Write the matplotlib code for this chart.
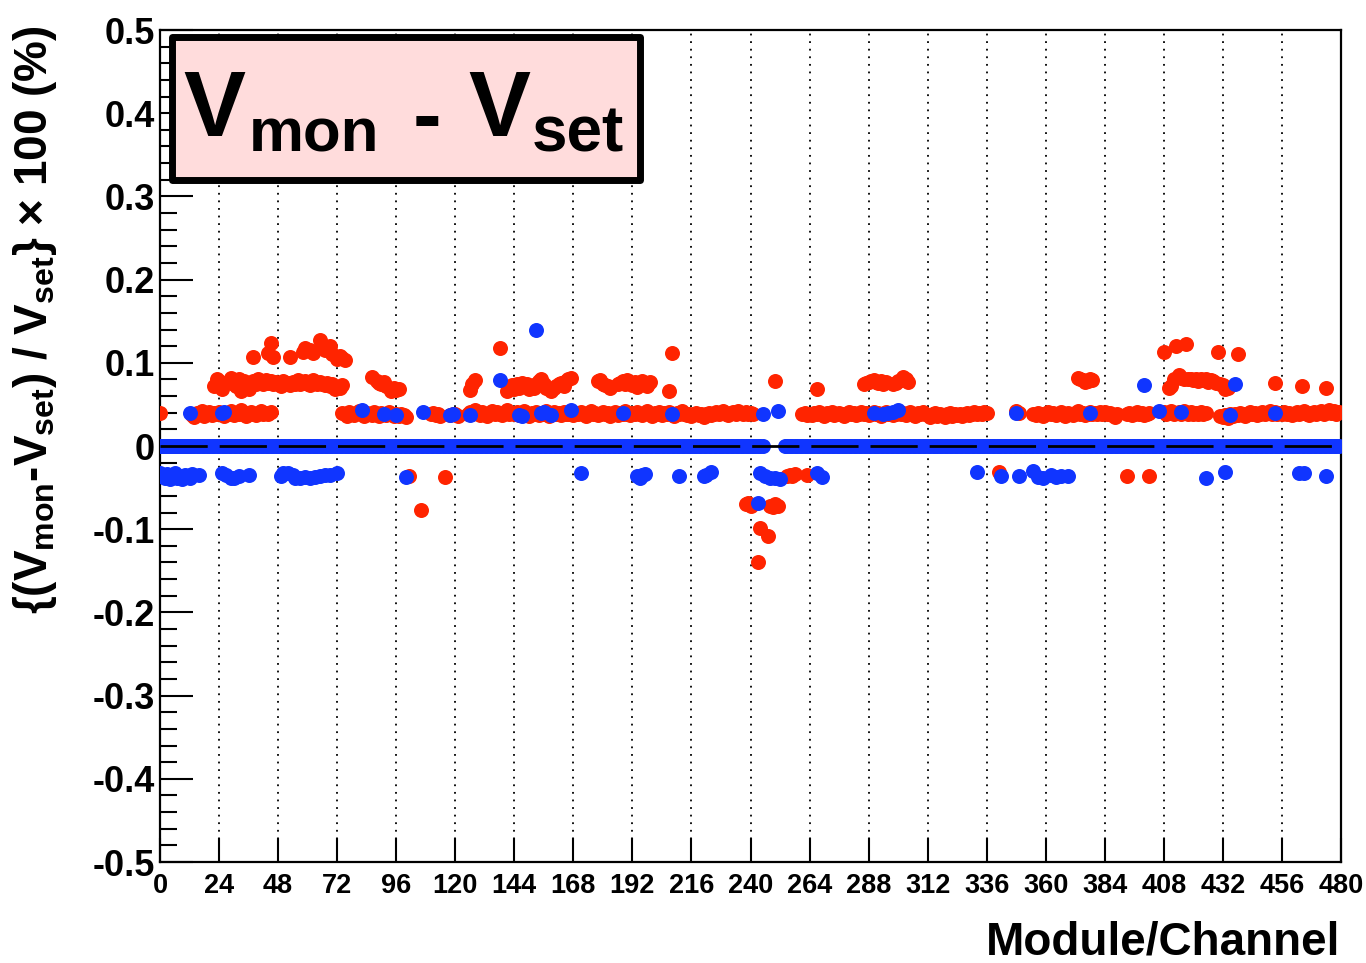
import numpy as np
import matplotlib
matplotlib.use("Agg")
import matplotlib.pyplot as plt
from matplotlib.patches import Rectangle
from matplotlib import font_manager

n = np.nan

# ---------------- data ----------------
# main red band (one value per channel, 20 modules x 24 channels)
red_band = [
    0.040, 0, 0, 0, 0, 0, 0, 0, 0, 0, 0, 0, 0, 0.037, 0.035, 0.040, 0.038, 0.042, 0.036, 0.039, 0.041, 0.037, 0.040, 0.038,
    0.041, 0.039, 0.036, 0.040, 0.038, 0.042, 0.037, 0.040, 0.039, 0.043, 0.038, 0.036, 0.040, 0.041, 0.039, 0.037, 0.040, 0.042, 0.038, 0.040, 0.039, 0.041, n, n,
    n, n, n, n, n, n, n, n, n, n, n, n, n, n, n, n, n, n, n, n, n, n, n, n,
    n, n, 0.040, 0.038, 0.036, 0.041, 0.039, 0.037, 0.040, 0.042, 0.038, 0.036, 0.040, 0.039, 0.037, 0.041, 0.038, 0.036, 0.040, 0.039, 0.037, 0.041, 0.038, 0.036,
    0.038, 0.036, 0.039, 0.037, 0.035, n, n, n, n, n, n, n, n, n, 0.038, 0.040, 0.037, 0.039, 0.036, n, n, n, 0.037, 0.039,
    0.038, 0.036, n, n, n, 0.039, 0.041, 0.038, 0.043, 0.040, 0.037, 0.041, 0.039, 0.036, 0.040, 0.042, 0.038, 0.041, 0.039, 0.037, 0.040, 0.043, 0.038, 0.040,
    0.039, 0.041, 0.037, 0.040, 0.042, 0.038, 0.036, 0.040, 0.039, 0.041, 0.037, 0.040, 0.038, 0.042, 0.036, 0.039, 0.041, 0.038, 0.040, 0.037, 0.041, 0.039, 0.038, 0.040,
    0.037, 0.040, 0.038, 0.041, 0.039, 0.036, 0.040, 0.042, 0.038, 0.040, 0.037, 0.039, 0.041, 0.038, 0.040, 0.036, 0.039, 0.041, 0.037, 0.040, 0.038, 0.042, 0.039, 0.037,
    0.040, 0.038, 0.041, 0.039, 0.037, 0.040, 0.042, 0.038, 0.036, 0.040, 0.039, 0.041, 0.037, 0.040, 0.038, 0.041, 0.039, 0.036, 0.040, 0.038, 0.042, 0.039, 0.037, 0.038,
    0.036, 0.038, 0.040, 0.037, 0.039, 0.035, 0.038, 0.040, 0.037, 0.039, 0.041, 0.038, 0.040, 0.042, 0.039, 0.037, 0.040, 0.041, 0.039, 0.042, 0.040, 0.038, 0.041, 0.039,
    0.040, 0.038, n, n, n, n, n, n, n, n, n, n, n, n, n, n, n, n, n, n, n, 0.038, 0.040, 0.037,
    0.039, 0.037, 0.040, 0.038, 0.041, 0.039, 0.036, 0.040, 0.038, 0.041, 0.037, 0.039, 0.040, 0.038, 0.036, 0.039, 0.041, 0.038, 0.040, 0.037, 0.039, 0.041, 0.038, 0.040,
    0.037, 0.039, 0.041, 0.038, 0.040, 0.036, 0.039, 0.041, 0.038, 0.040, 0.037, 0.039, 0.042, 0.038, 0.040, 0.037, 0.039, 0.041, 0.038, 0.036, 0.040, 0.038, 0.041, 0.039,
    0.037, 0.035, 0.038, 0.040, 0.036, 0.039, 0.037, 0.035, 0.038, 0.040, 0.036, 0.038, 0.037, 0.039, 0.036, 0.038, 0.040, 0.037, 0.039, 0.041, 0.038, 0.040, 0.039, 0.041,
    0.040, n, n, n, n, n, n, n, n, n, n, n, 0.042, 0.040, n, n, n, n, n, 0.039, 0.037, 0.040, 0.038, 0.036,
    0.039, 0.041, 0.038, 0.040, 0.037, 0.039, 0.041, 0.038, 0.036, 0.040, 0.039, 0.037, 0.040, 0.042, 0.038, 0.040, 0.037, 0.039, 0.041, 0.038, 0.040, 0.038, 0.041, 0.039,
    0.041, 0.038, 0.040, 0.037, 0.035, 0.038, n, n, n, 0.038, 0.040, 0.037, 0.039, 0.041, 0.038, 0.040, 0.037, 0.039, 0.040, n, n, n, n, n,
    0.041, 0.039, 0.040, 0.042, 0.038, 0.040, 0.041, 0.039, 0.042, 0.040, 0.038, 0.041, 0.039, 0.040, 0.038, 0.041, 0.039, 0.040, n, n, n, n, n, 0.036,
    0.035, 0.037, 0.034, 0.038, 0.036, 0.039, 0.037, 0.040, 0.038, 0.036, 0.039, 0.041, 0.038, 0.040, 0.037, 0.039, 0.041, 0.038, 0.040, 0.042, 0.039, 0.041, 0.038, 0.040,
    0.039, 0.041, 0.038, 0.040, 0.037, 0.039, 0.041, 0.038, 0.040, 0.042, 0.039, 0.037, 0.040, 0.041, 0.038, 0.040, 0.042, 0.039, 0.041, 0.043, 0.040, 0.042, 0.039, 0.041,
]

# additional red points (channel, value)
red_extra_ch = [
    22, 23, 24, 25, 26, 29, 30, 31, 32, 33, 34, 35, 36, 37, 38, 39, 40, 41, 42, 43,
    44, 45, 46, 47, 48, 49, 50, 51, 52, 53, 54, 55, 56, 57, 58, 59, 60, 61, 62, 63,
    64, 65, 66, 67, 68, 69, 70, 71, 72, 73, 74,
    38, 44, 45, 46, 53, 58, 59, 61, 62, 65, 66, 67, 69, 70, 72, 73, 74, 75,
    86, 88, 89, 90, 91, 92, 94, 95, 96, 97,
    126, 127, 128, 138,
    141, 142, 143, 144, 145, 146, 147, 148, 149, 150, 151, 152, 153, 154, 155, 156,
    157, 158, 159, 160, 161, 162, 163, 164, 165, 166, 167,
    178, 179, 180, 181, 182, 183, 186, 187, 188, 189, 190, 191, 192, 193, 194, 195,
    196, 197, 198, 199, 207, 208, 250, 267,
    286, 287, 288, 289, 290, 291, 292, 293, 294, 295, 298, 299, 300, 301, 302, 303, 304,
    373, 374, 375, 376, 377, 378, 379,
    408, 410, 411, 412, 413, 414, 415, 416, 417, 418, 419, 420, 421, 422, 423, 424,
    425, 426, 427, 428, 429, 430, 431, 432, 433, 434, 438,
    453, 464, 474,
    101, 106, 116, 238, 239, 240, 243, 244, 247, 248, 249, 250, 251,
    255, 256, 257, 258, 263, 341, 393, 402,
]
red_extra_val = [
    0.072, 0.080, 0.078, 0.068, 0.076, 0.082, 0.075, 0.072, 0.080, 0.066, 0.078, 0.074, 0.068, 0.076, 0.078, 0.075, 0.080, 0.077, 0.074, 0.079,
    0.076, 0.078, 0.074, 0.077, 0.075, 0.072, 0.078, 0.074, 0.076, 0.073, 0.077, 0.075, 0.079, 0.074, 0.076, 0.078, 0.075, 0.073, 0.079, 0.076,
    0.074, 0.077, 0.075, 0.073, 0.076, 0.072, 0.074, 0.068, 0.071, 0.070, 0.073,
    0.107, 0.112, 0.124, 0.107, 0.107, 0.113, 0.118, 0.115, 0.112, 0.128, 0.120, 0.115, 0.120, 0.110, 0.104, 0.108, 0.106, 0.103,
    0.083, 0.078, 0.076, 0.074, 0.077, 0.072, 0.066, 0.070, 0.067, 0.069,
    0.067, 0.075, 0.079, 0.118,
    0.066, 0.070, 0.073, 0.068, 0.075, 0.070, 0.076, 0.072, 0.074, 0.068, 0.072, 0.070, 0.075, 0.078, 0.081, 0.074,
    0.070, 0.069, 0.066, 0.070, 0.072, 0.075, 0.076, 0.072, 0.078, 0.080, 0.082,
    0.078, 0.079, 0.075, 0.073, 0.072, 0.070, 0.074, 0.076, 0.078, 0.075, 0.079, 0.076, 0.073, 0.077, 0.071, 0.074,
    0.078, 0.075, 0.072, 0.077, 0.066, 0.112, 0.078, 0.068,
    0.075, 0.076, 0.077, 0.078, 0.079, 0.077, 0.076, 0.078, 0.075, 0.077, 0.074, 0.076, 0.078, 0.079, 0.083, 0.080, 0.077,
    0.082, 0.080, 0.079, 0.077, 0.078, 0.080, 0.079,
    0.113, 0.070, 0.072, 0.080, 0.120, 0.085, 0.082, 0.080, 0.123, 0.081, 0.080, 0.079, 0.080, 0.078, 0.080, 0.079,
    0.081, 0.077, 0.079, 0.078, 0.076, 0.113, 0.075, 0.073, 0.068, 0.070, 0.111,
    0.076, 0.072, 0.070,
    -0.036, -0.077, -0.037, -0.070, -0.068, -0.072, -0.139, -0.099, -0.108, -0.072, -0.073, -0.070, -0.072,
    -0.036, -0.035, -0.036, -0.034, -0.035, -0.031, -0.036, -0.036,
]

# blue points sitting on the zero line (one per channel, 20 modules x 24)
blue_base = [
    0, 0, 0, 0, 0, 0, 0, 0, 0, 0, 0, 0, 0, 0, 0, 0, 0, 0, 0, 0, 0, 0, 0, 0,
    0, 0, 0, 0, 0, 0, 0, 0, 0, 0, 0, 0, 0, 0, 0, 0, 0, 0, 0, 0, 0, 0, 0, 0,
    0, 0, 0, 0, 0, 0, 0, 0, 0, 0, 0, 0, 0, 0, 0, 0, 0, 0, 0, 0, 0, 0, 0, 0,
    0, 0, 0, 0, 0, 0, 0, 0, 0, 0, 0, 0, 0, 0, 0, 0, 0, 0, 0, 0, 0, 0, 0, 0,
    0, 0, 0, 0, 0, 0, 0, 0, 0, 0, 0, 0, 0, 0, 0, 0, 0, 0, 0, 0, 0, 0, 0, 0,
    0, 0, 0, 0, 0, 0, 0, 0, 0, 0, 0, 0, 0, 0, 0, 0, 0, 0, 0, 0, 0, 0, 0, 0,
    0, 0, 0, 0, 0, 0, 0, 0, 0, 0, 0, 0, 0, 0, 0, 0, 0, 0, 0, 0, 0, 0, 0, 0,
    0, 0, 0, 0, 0, 0, 0, 0, 0, 0, 0, 0, 0, 0, 0, 0, 0, 0, 0, 0, 0, 0, 0, 0,
    0, 0, 0, 0, 0, 0, 0, 0, 0, 0, 0, 0, 0, 0, 0, 0, 0, 0, 0, 0, 0, 0, 0, 0,
    0, 0, 0, 0, 0, 0, 0, 0, 0, 0, 0, 0, 0, 0, 0, 0, 0, 0, 0, 0, 0, 0, 0, 0,
    0, 0, 0, 0, 0, 0, n, n, n, n, n, n, n, n, 0, 0, 0, 0, 0, 0, 0, 0, 0, 0,
    0, 0, 0, 0, 0, 0, 0, 0, 0, 0, 0, 0, 0, 0, 0, 0, 0, 0, 0, 0, 0, 0, 0, 0,
    0, 0, 0, 0, 0, 0, 0, 0, 0, 0, 0, 0, 0, 0, 0, 0, 0, 0, 0, 0, 0, 0, 0, 0,
    0, 0, 0, 0, 0, 0, 0, 0, 0, 0, 0, 0, 0, 0, 0, 0, 0, 0, 0, 0, 0, 0, 0, 0,
    0, 0, 0, 0, 0, 0, 0, 0, 0, 0, 0, 0, 0, 0, 0, 0, 0, 0, 0, 0, 0, 0, 0, 0,
    0, 0, 0, 0, 0, 0, 0, 0, 0, 0, 0, 0, 0, 0, 0, 0, 0, 0, 0, 0, 0, 0, 0, 0,
    0, 0, 0, 0, 0, 0, 0, 0, 0, 0, 0, 0, 0, 0, 0, 0, 0, 0, 0, 0, 0, 0, 0, 0,
    0, 0, 0, 0, 0, 0, 0, 0, 0, 0, 0, 0, 0, 0, 0, 0, 0, 0, 0, 0, 0, 0, 0, 0,
    0, 0, 0, 0, 0, 0, 0, 0, 0, 0, 0, 0, 0, 0, 0, 0, 0, 0, 0, 0, 0, 0, 0, 0,
    0, 0, 0, 0, 0, 0, 0, 0, 0, 0, 0, 0, 0, 0, 0, 0, 0, 0, 0, 0, 0, 0, 0, 0,
]

# additional blue points (channel, value)
blue_extra_ch = [
    12, 25, 26, 82, 91, 96, 107, 118, 119, 126, 138, 146, 147, 153, 155, 156, 159, 167,
    188, 208, 245, 251, 290, 294, 296, 298, 300, 348, 378, 400, 406, 415, 435, 437, 453,
    0, 1, 2, 3, 4, 5, 6, 7, 8, 9, 10, 11, 12, 13, 16,
    25, 27, 29, 30, 32, 36,
    49, 50, 52, 54, 55, 57, 59, 61, 63, 65, 67, 69, 72,
    100, 171, 194, 195, 196, 197, 211, 221, 222, 224, 243,
    244, 246, 248, 250, 252, 267, 269,
    332, 342, 349, 355, 357, 359, 362, 364, 366, 369,
    425, 433, 463, 465, 474,
]
blue_extra_val = [
    0.040, 0.040, 0.041, 0.043, 0.039, 0.037, 0.041, 0.037, 0.039, 0.037, 0.079, 0.037, 0.036, 0.139, 0.040, 0.041, 0.037, 0.043,
    0.040, 0.039, 0.038, 0.042, 0.040, 0.039, 0.040, 0.041, 0.043, 0.040, 0.040, 0.073, 0.042, 0.041, 0.037, 0.075, 0.040,
    -0.033, -0.036, -0.038, -0.034, -0.040, -0.035, -0.033, -0.038, -0.036, -0.040, -0.035, -0.037, -0.038, -0.034, -0.035,
    -0.033, -0.035, -0.038, -0.039, -0.036, -0.035,
    -0.036, -0.033, -0.032, -0.035, -0.038, -0.038, -0.037, -0.038, -0.037, -0.036, -0.035, -0.035, -0.033,
    -0.037, -0.033, -0.036, -0.038, -0.035, -0.034, -0.036, -0.036, -0.035, -0.031, -0.068,
    -0.033, -0.036, -0.038, -0.038, -0.040, -0.032, -0.037,
    -0.031, -0.036, -0.036, -0.030, -0.037, -0.038, -0.035, -0.037, -0.036, -0.036,
    -0.038, -0.031, -0.033, -0.032, -0.036,
]

x_ticks = [0, 24, 48, 72, 96, 120, 144, 168, 192, 216, 240, 264, 288, 312, 336,
           360, 384, 408, 432, 456, 480]
y_ticks = [-0.5, -0.4, -0.3, -0.2, -0.1, 0.0, 0.1, 0.2, 0.3, 0.4, 0.5]
y_tick_labels = ["-0.5", "-0.4", "-0.3", "-0.2", "-0.1", "0", "0.1", "0.2", "0.3", "0.4", "0.5"]

# ---------------- style ----------------
def have(fam):
    try:
        font_manager.findfont(font_manager.FontProperties(family=fam), fallback_to_default=False)
        return True
    except Exception:
        return False

BOLD = "Liberation Sans"
NARROW = "Liberation Sans Narrow" if have("Liberation Sans Narrow") else "Liberation Sans"

plt.rcParams["axes.unicode_minus"] = False
plt.rcParams["font.family"] = [BOLD, "DejaVu Sans"]
plt.rcParams["mathtext.fontset"] = "custom"
plt.rcParams["mathtext.rm"] = BOLD + ":bold"
plt.rcParams["mathtext.it"] = BOLD + ":bold"
plt.rcParams["mathtext.bf"] = BOLD + ":bold"

RED = "#FF2400"
BLUE = "#1035FF"

W, H = 1366, 963
fig = plt.figure(figsize=(W / 100, H / 100), dpi=100)
L, R, T, B = 160, 1341, 30, 862
ax = fig.add_axes([L / W, 1 - B / H, (R - L) / W, (B - T) / H])

def fx(px):
    return px / W

def fy(py):
    return 1 - py / H

ch = np.arange(480)
ms = 10.8
ax.plot(ch, np.array(red_band, dtype=float), "o", color=RED, ms=ms, mew=0, zorder=3)
ax.plot(red_extra_ch, red_extra_val, "o", color=RED, ms=ms, mew=0, zorder=3)
ax.plot(ch, np.array(blue_base, dtype=float), "o", color=BLUE, ms=ms, mew=0, zorder=4)
ax.plot(blue_extra_ch, blue_extra_val, "o", color=BLUE, ms=ms, mew=0, zorder=4)

ax.axhline(0, color="black", lw=2.0, dashes=(17, 4.3), zorder=5)

ax.set_xlim(0, 480)
ax.set_ylim(-0.5, 0.5)
ax.set_xticks(x_ticks)
ax.set_xticklabels([str(v) for v in x_ticks], fontfamily=NARROW, fontweight="bold", fontsize=19.5)
ax.set_yticks(y_ticks)
ax.set_yticklabels(y_tick_labels, fontfamily=BOLD, fontweight="bold", fontsize=26)
ax.set_yticks(np.arange(-0.5, 0.5001, 0.02), minor=True)
ax.tick_params(axis="y", which="major", direction="in", length=23.5, width=1.5, pad=3.5)
ax.tick_params(axis="y", which="minor", direction="in", length=12, width=1.5)
ax.tick_params(axis="x", which="major", direction="in", length=17, width=1.5, pad=8)
ax.grid(axis="x", color="black", lw=1.3, linestyle=(0, (1, 3.2)))
ax.set_axisbelow(True)
for s in ax.spines.values():
    s.set_linewidth(1.6)

# pink title box
box = Rectangle(((171.5 - L) / (R - L), (B - 179.5) / (B - T)),
                (639.5 - 171.5) / (R - L), (179.5 - 36.5) / (B - T),
                transform=ax.transAxes, facecolor="#FFDCDC", edgecolor="black",
                lw=5, joinstyle="round", zorder=6)
ax.add_patch(box)
fig.text(fx(183), fy(136), "V", fontfamily=BOLD, fontweight="bold", fontsize=67, va="baseline", ha="left", zorder=7)
fig.text(fx(249), fy(152), "mon", fontfamily=NARROW, fontweight="bold", fontsize=44.5, va="baseline", ha="left", zorder=7)
fig.text(fx(413), fy(143), "-", fontfamily=BOLD, fontweight="bold", fontsize=62, va="baseline", ha="left", zorder=7)
fig.text(fx(468), fy(136), "V", fontfamily=BOLD, fontweight="bold", fontsize=67, va="baseline", ha="left", zorder=7)
fig.text(fx(532), fy(152), "set", fontfamily=NARROW, fontweight="bold", fontsize=46, va="baseline", ha="left", zorder=7)

# axis titles
fig.text(fx(35), fy(320), r"{($V_{mon}$-$V_{set}$) / $V_{set}$} × 100 (%)",
         rotation=90, ha="center", va="center", fontfamily=BOLD, fontweight="bold", fontsize=33)
fig.text(fx(1340), fy(954), "Module/Channel", ha="right", va="baseline",
         fontfamily=NARROW, fontweight="bold", fontsize=33)

fig.savefig("out.png", dpi=100)
